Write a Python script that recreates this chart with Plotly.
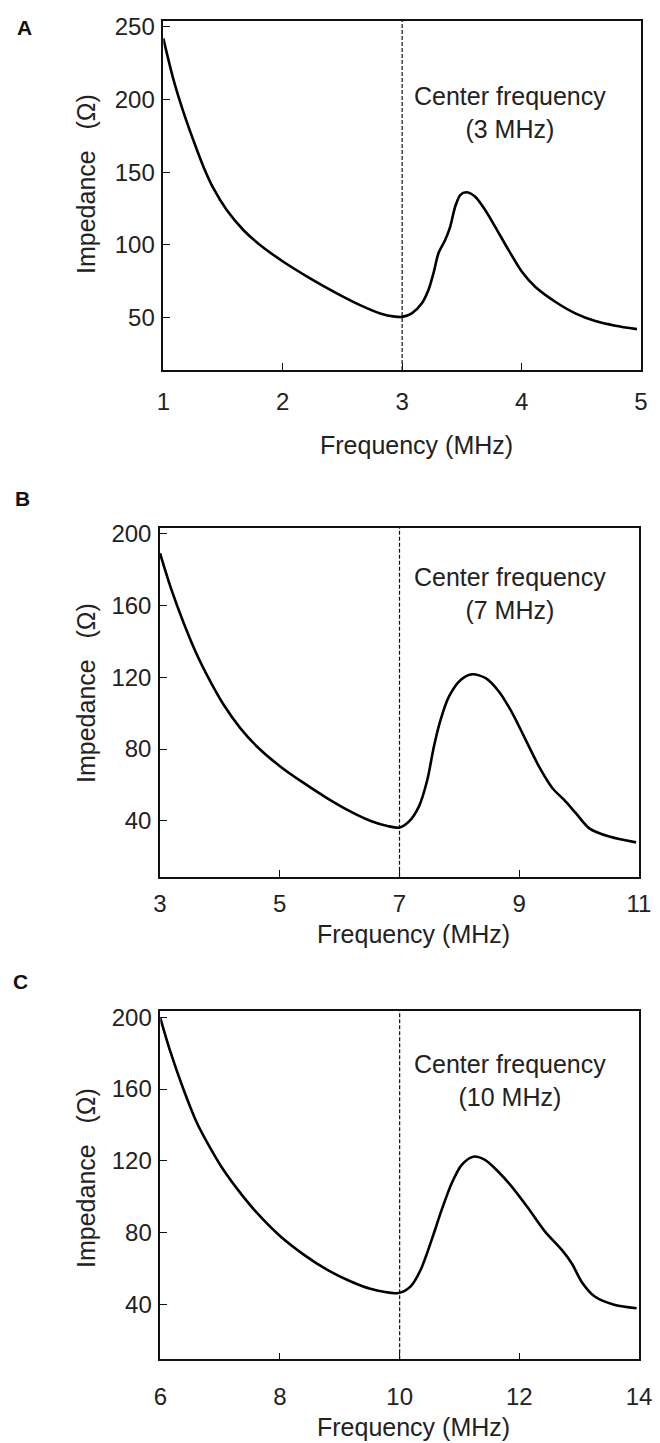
import plotly.graph_objects as go

# ---------------- data ----------------
freq_a = [1.0, 1.084, 1.168, 1.251, 1.335, 1.419, 1.531, 1.670, 1.810, 2.005, 2.229, 2.453, 2.648, 2.816, 2.94, 3.0,
          3.081, 3.165, 3.22, 3.262, 3.304, 3.36, 3.402, 3.444, 3.486, 3.536, 3.612, 3.695, 3.779, 3.891, 4.003,
          4.114, 4.282, 4.45, 4.617, 4.785, 4.966]
imp_a = [242, 214, 191.5, 172.1, 154, 139, 124, 110.3, 100, 88.5, 77.1, 66.8, 58.7, 53, 50.8, 50.6,
         53, 59.9, 69, 80.5, 94.3, 103.4, 112.5, 126.3, 134.3, 136.2, 133.2, 124, 112.5, 96.5, 81.6,
         71.3, 61, 53, 47.7, 44.5, 42.2]

freq_b = [3.0, 3.172, 3.397, 3.619, 3.842, 4.066, 4.344, 4.623, 5.013, 5.405, 5.795, 6.185, 6.52, 6.8, 6.995,
          7.156, 7.323, 7.464, 7.574, 7.686, 7.825, 8.021, 8.217, 8.44, 8.662, 8.886, 9.109, 9.331, 9.555,
          9.75, 9.946, 10.17, 10.503, 10.95]
imp_b = [188.9, 170.5, 150, 132.3, 117.5, 104.5, 91.5, 81.3, 70.2, 61, 52.6, 45.2, 40, 37.2, 36.3,
         39.6, 48, 62.8, 81.3, 96.2, 109.1, 118.4, 121.6, 119.4, 111.9, 99.9, 85, 70.2, 58.2,
         51.7, 44.3, 35.9, 31.3, 28.1]

freq_c = [6.0, 6.167, 6.391, 6.613, 6.836, 7.06, 7.337, 7.616, 8.005, 8.396, 8.785, 9.175, 9.51, 9.985,
          10.18, 10.35, 10.535, 10.702, 10.87, 11.037, 11.23, 11.426, 11.649, 11.873, 12.15, 12.43, 12.71,
          12.875, 13.04, 13.26, 13.6, 13.96]
imp_c = [199.6, 181, 159.5, 141.1, 127.1, 114.7, 102.1, 90.9, 77.9, 67.7, 59.3, 52.8, 48.6, 46.3,
         49.8, 59.1, 75.9, 92.6, 107.5, 117.7, 122.3, 120.5, 113.9, 105.6, 93.5, 80.5, 70.3,
         62.9, 52.6, 44.3, 39.6, 37.8]

panel_labels = ["A", "B", "C"]
center_freqs = [3, 7, 10]
center_texts = ["Center frequency<br>(3 MHz)", "Center frequency<br>(7 MHz)", "Center frequency<br>(10 MHz)"]
x_ranges = [[1, 5], [3, 11], [6, 14]]
x_ticks = [[1, 2, 3, 4, 5], [3, 5, 7, 9, 11], [6, 8, 10, 12, 14]]
y_ranges = [[14.1, 253.9], [9.0, 203.1], [9.3, 203.7]]
y_ticks = [[50, 100, 150, 200, 250], [40, 80, 120, 160, 200], [40, 80, 120, 160, 200]]
x_title = "Frequency (MHz)"
y_title = "Impedance\u00a0\u00a0\u00a0(Ω)"

series = [(freq_a, imp_a), (freq_b, imp_b), (freq_c, imp_c)]

# ---------------- layout geometry (pixels) ----------------
W, H = 660, 1443
boxes = [  # left, right, top, bottom
    (163.3, 641.0, 21.0, 370.0),
    (160.0, 639.0, 527.7, 876.7),
    (160.3, 639.0, 1010.7, 1359.3),
]
tick_standoff = [9, 5, 15]
xtitle_y = [445, 934, 1427]
ytitle_y = [184, 693, 1178]
note_y = [113, 593, 1080]
label_pos = [(24, 27.5), (22, 498.5), (21, 981.5)]

FONT = "Liberation Sans, Arial, sans-serif"
TXT = "#222222"

fig = go.Figure()
annotations = []
shapes = []
for i, (fx, fy) in enumerate(series):
    n = "" if i == 0 else str(i + 1)
    xa, ya = "x" + n, "y" + n
    fig.add_trace(go.Scatter(x=fx, y=fy, mode="lines", xaxis=xa, yaxis=ya,
                             line=dict(color="black", width=2.6, shape="spline", smoothing=0.8),
                             showlegend=False, hoverinfo="x+y"))
    l, r, t, b = boxes[i]
    common = dict(showline=True, linecolor="#111111", linewidth=1.5, mirror=True,
                  ticks="inside", ticklen=7, tickwidth=1.3, tickcolor="#111111",
                  showgrid=False, zeroline=False, automargin=False,
                  tickfont=dict(family=FONT, size=24, color=TXT))
    fig.layout["xaxis" + n] = dict(common, domain=[l / W, r / W], range=x_ranges[i],
                                   tickvals=x_ticks[i], anchor=ya,
                                   ticklabelstandoff=tick_standoff[i])
    fig.layout["yaxis" + n] = dict(common, domain=[1 - b / H, 1 - t / H], range=y_ranges[i],
                                   tickvals=y_ticks[i], anchor=xa, ticklabelstandoff=2)
    shapes.append(dict(type="line", xref=xa, yref=ya + " domain", x0=center_freqs[i], x1=center_freqs[i],
                       y0=0, y1=1, line=dict(color="#111111", width=1.2, dash="4px,2px")))
    annotations.append(dict(text=center_texts[i], xref="paper", yref="paper", x=510 / W, y=1 - note_y[i] / H,
                            xanchor="center", yanchor="middle", showarrow=False,
                            font=dict(family=FONT, size=25, color=TXT)))
    annotations.append(dict(text=x_title, xref="paper", yref="paper", x=((l + r) / 2 + 14) / W,
                            y=1 - xtitle_y[i] / H, xanchor="center", yanchor="middle", showarrow=False,
                            font=dict(family=FONT, size=25, color=TXT)))
    annotations.append(dict(text=y_title, xref="paper", yref="paper", x=86 / W, y=1 - ytitle_y[i] / H,
                            xanchor="center", yanchor="middle", textangle=-90, showarrow=False,
                            font=dict(family=FONT, size=25, color=TXT)))
    lx, ly = label_pos[i]
    annotations.append(dict(text="<b>" + panel_labels[i] + "</b>", xref="paper", yref="paper", x=lx / W,
                            y=1 - ly / H, xanchor="center", yanchor="middle", showarrow=False,
                            font=dict(family=FONT, size=21, color="#111111")))

fig.update_layout(width=W, height=H, margin=dict(l=0, r=0, t=0, b=0),
                  paper_bgcolor="white", plot_bgcolor="white",
                  annotations=annotations, shapes=shapes, showlegend=False)

fig.write_html("out.html", config={"displayModeBar": False})
